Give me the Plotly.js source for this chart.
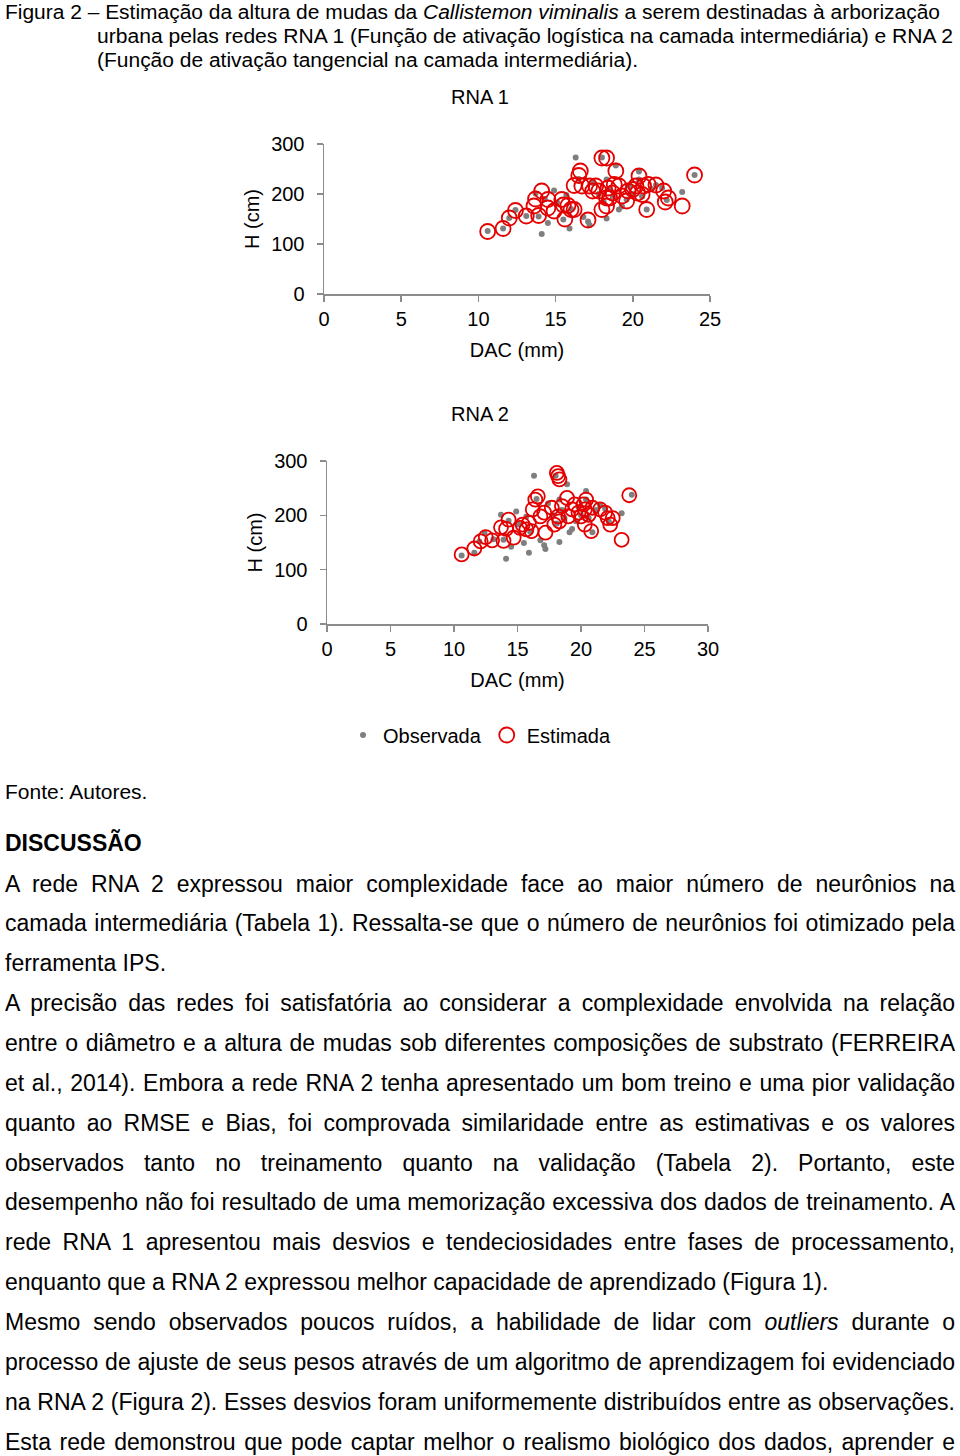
<!DOCTYPE html>
<html><head><meta charset="utf-8">
<script src="https://cdn.plot.ly/plotly-3.0.1.min.js"></script>
<style>
html,body{margin:0;padding:0;background:#fff;width:960px;height:1456px;overflow:hidden;}
#chart{position:absolute;left:0;top:0;width:960px;height:770px;z-index:1;}
.ln{position:absolute;white-space:nowrap;font-family:"Liberation Sans",Arial,sans-serif;color:#000;z-index:2;}
.ln span{display:inline-block;transform-origin:0 50%;}
</style></head><body>
<div id="chart"></div>
<div id="txt"></div>
<script>
// ---- chart data ----
const obsX = [10.6,11.6,12.0,12.4,13.1,13.7,13.9,14.1,14.3,14.5,14.9,15.1,15.5,15.7,15.9,16.0,16.3,16.5,16.8,17.1,17.2,17.4,17.8,18.0,18.1,18.3,18.3,18.5,18.7,18.9,19.1,19.3,19.6,19.8,20.0,20.4,20.4,20.6,20.9,21.2,21.5,21.9,22.2,23.2,24.0];
const obsY = [126,131,152,168,156,201,155,120,190,142,207,183,149,198,131,170,273,230,154,145,138,222,200,273,185,229,151,210,195,257,169,175,189,215,200,229,245,195,169,210,218,212,188,204,238];

const est1X = [10.6,11.6,12.0,12.4,13.1,13.6,13.7,13.9,14.1,14.5,14.5,14.9,15.4,15.5,15.6,15.8,16.0,16.2,16.2,16.5,16.6,16.7,17.1,17.2,17.4,17.6,17.8,18.0,18.0,18.3,18.3,18.3,18.4,18.5,18.7,18.8,18.9,19.1,19.3,19.6,19.7,20.0,20.2,20.3,20.4,20.6,20.7,20.9,21.0,21.5,22.0,22.1,22.3,23.2,24.0];
const est1Y = [125,131,152,167,156,176,190,157,206,189,172,166,189,178,150,177,169,169,217,237,246,216,148,216,206,216,206,169,272,272,192,176,212,192,202,219,246,216,196,186,206,209,216,202,236,199,216,169,219,218,206,184,192,176,238];

const est2X = [10.6,11.6,12.1,12.5,13.0,13.7,13.9,14.1,14.3,14.7,15.2,15.4,15.7,15.9,16.1,16.2,16.4,16.6,16.8,17.1,17.2,17.7,17.9,18.1,18.2,18.3,18.2,18.3,18.5,18.9,19.0,19.3,19.5,19.8,20.0,20.2,20.3,20.4,20.3,20.6,20.8,20.9,21.5,21.9,22.1,22.3,22.5,23.2,23.8];
const est2Y = [128,139,152,160,154,178,153,175,192,159,177,183,174,186,171,211,229,235,198,205,168,214,183,278,272,266,198,189,217,232,198,211,220,205,198,220,211,229,183,201,171,214,211,205,195,183,195,155,237];

const xTicks1 = [0,5,10,15,20,25];
const xTicks2 = [0,5,10,15,20,25,30];
const yTicks = [0,100,200,300];

const H = 770;
const py = v => 1 - v / H;
const FONT = '"Liberation Sans", Arial, sans-serif';
const GRAY = '#7f7f7f';
const RED = 'rgb(228,0,0)';
const AX = '#8c8c8c';

function axis(extra){
  return Object.assign({
    showline:true, linecolor:AX, linewidth:1.5, ticks:'outside', ticklen:6, tickwidth:1.5, tickcolor:AX,
    showgrid:false, zeroline:false, fixedrange:true, tickfont:{size:20,color:'#000'}, tickmode:'array'
  }, extra);
}

const traces = [
  {x:obsX, y:obsY, xaxis:'x', yaxis:'y', type:'scatter', mode:'markers', name:'Observada',
   marker:{color:GRAY, size:6}, legendgroup:'o'},
  {x:est1X, y:est1Y, xaxis:'x', yaxis:'y', type:'scatter', mode:'markers', name:'Estimada',
   marker:{symbol:'circle-open', color:RED, size:15, line:{width:1.8, color:RED}}, legendgroup:'e'},
  {x:obsX, y:obsY, xaxis:'x2', yaxis:'y2', type:'scatter', mode:'markers', name:'Observada',
   marker:{color:GRAY, size:6}, legendgroup:'o', showlegend:false},
  {x:est2X, y:est2Y, xaxis:'x2', yaxis:'y2', type:'scatter', mode:'markers', name:'Estimada',
   marker:{symbol:'circle-open', color:RED, size:14, line:{width:1.8, color:RED}}, legendgroup:'e', showlegend:false}
];

const layout = {
  width:960, height:H, margin:{l:0,r:0,t:0,b:0},
  paper_bgcolor:'rgba(0,0,0,0)', plot_bgcolor:'rgba(0,0,0,0)',
  font:{family:FONT, size:20, color:'#000'},
  showlegend:true,
  legend:{orientation:'h', x:0.4995, xanchor:'center', y:py(735), yanchor:'middle', font:{size:20}, bgcolor:'rgba(0,0,0,0)'},
  xaxis: axis({domain:[324/960, 710/960], range:[0,25], tickvals:xTicks1, anchor:'y', ticklabelstandoff:0,
    title:{text:'DAC (mm)', font:{size:20}, standoff:14}}),
  yaxis: axis({domain:[py(294), py(144)], range:[0,300], tickvals:yTicks, anchor:'x', ticklabelstandoff:8,
    title:{text:'H (cm)', font:{size:20}, standoff:6}}),
  xaxis2: axis({domain:[327/960, 708/960], range:[0,30], tickvals:xTicks2, anchor:'y2', ticklabelstandoff:0,
    title:{text:'DAC (mm)', font:{size:20}, standoff:14}}),
  yaxis2: axis({domain:[py(624), py(461)], range:[0,300], tickvals:yTicks, anchor:'x2', ticklabelstandoff:8,
    title:{text:'H (cm)', font:{size:20}, standoff:6}}),
  annotations:[
    {text:'RNA 1', xref:'paper', yref:'paper', x:480/960, y:py(97), xanchor:'center', yanchor:'middle', showarrow:false, font:{size:20}},
    {text:'RNA 2', xref:'paper', yref:'paper', x:480/960, y:py(414), xanchor:'center', yanchor:'middle', showarrow:false, font:{size:20}}
  ]
};

Plotly.newPlot('chart', traces, layout, {displayModeBar:false, staticPlot:true});

// ---- page text ----
const lines = [
  {h:'Figura 2 – Estimação da altura de mudas da <i>Callistemon viminalis</i> a serem destinadas à arborização', x:5, c:12, w:935, m:'scale', f:20, lh:24},
  {h:'urbana pelas redes RNA 1 (Função de ativação logística na camada intermediária) e RNA 2', x:97, c:36, w:856, m:'scale', f:20, lh:24},
  {h:'(Função de ativação tangencial na camada intermediária).', x:97, c:60, w:541, m:'scale', f:20, lh:24},
  {h:'Fonte: Autores.', x:5, c:792, f:21, lh:40},
  {h:'<b>DISCUSSÃO</b>', x:5, c:843, f:23, lh:40},
  {h:'A rede RNA 2 expressou maior complexidade face ao maior número de neurônios na', j:1},
  {h:'camada intermediária (Tabela 1). Ressalta-se que o número de neurônios foi otimizado pela', j:1},
  {h:'ferramenta IPS.'},
  {h:'A precisão das redes foi satisfatória ao considerar a complexidade envolvida na relação', j:1},
  {h:'entre o diâmetro e a altura de mudas sob diferentes composições de substrato (FERREIRA', j:1},
  {h:'et al., 2014). Embora a rede RNA 2 tenha apresentado um bom treino e uma pior validação', j:1},
  {h:'quanto ao RMSE e Bias, foi comprovada similaridade entre as estimativas e os valores', j:1},
  {h:'observados tanto no treinamento quanto na validação (Tabela 2). Portanto, este', j:1},
  {h:'desempenho não foi resultado de uma memorização excessiva dos dados de treinamento. A', j:1},
  {h:'rede RNA 1 apresentou mais desvios e tendeciosidades entre fases de processamento,', j:1},
  {h:'enquanto que a RNA 2 expressou melhor capacidade de aprendizado (Figura 1).'},
  {h:'Mesmo sendo observados poucos ruídos, a habilidade de lidar com <i>outliers</i> durante o', j:1},
  {h:'processo de ajuste de seus pesos através de um algoritmo de aprendizagem foi evidenciado', j:1},
  {h:'na RNA 2 (Figura 2). Esses desvios foram uniformemente distribuídos entre as observações.', j:1},
  {h:'Esta rede demonstrou que pode captar melhor o realismo biológico dos dados, aprender e', j:1}
];
const txt = document.getElementById('txt');
let bodyIdx = 0;
lines.forEach(L => {
  if (L.c === undefined) {
    L.x = 5; L.c = 884 + bodyIdx * 39.86; L.f = 23; L.lh = 40;
    if (L.j) { L.w = 950; L.m = 'justify'; }
    bodyIdx++;
  }
  const d = document.createElement('div');
  d.className = 'ln';
  d.style.left = L.x + 'px';
  d.style.fontSize = L.f + 'px';
  d.style.lineHeight = L.lh + 'px';
  d.style.top = (L.c - L.lh / 2 - 0.5) + 'px';
  const s = document.createElement('span');
  s.innerHTML = L.h;
  d.appendChild(s);
  txt.appendChild(d);
  const nat = s.getBoundingClientRect().width;
  if (L.m === 'scale') {
    s.style.transform = 'scaleX(' + (L.w / nat) + ')';
  } else if (L.m === 'justify') {
    if (nat < L.w) {
      const gaps = (s.textContent.match(/ /g) || []).length;
      s.style.wordSpacing = ((L.w - nat) / gaps) + 'px';
    } else {
      s.style.transform = 'scaleX(' + (L.w / nat) + ')';
    }
  }
});
</script>
</body></html>
